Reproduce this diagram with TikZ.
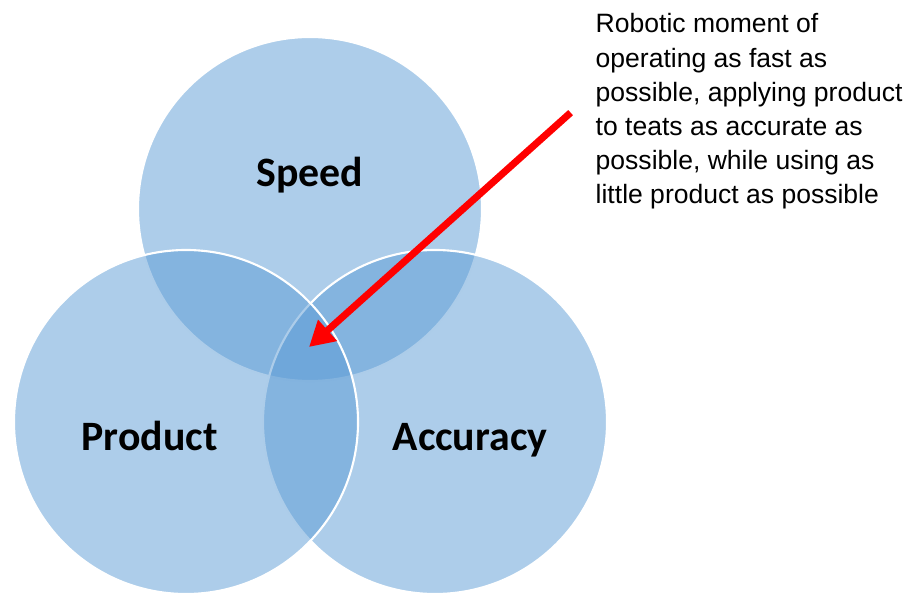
\documentclass[tikz,border=0pt]{standalone}
\usepackage{fontspec}
\setmainfont{Liberation Sans}
\newfontfamily\calibri{Carlito}
\usepackage{tkz-euclide}
\usetikzlibrary{arrows.meta}

\definecolor{azulvenn}{RGB}{91,155,213}
\definecolor{rojoflecha}{RGB}{255,0,0}

\tikzset{
    circulo/.style={fill=azulvenn, fill opacity=0.5, draw=white, line width=0.6pt},
    etiqueta/.style={font=\calibri\bfseries\fontsize{11.9}{13}\selectfont, anchor=base, inner sep=0pt},
    flecha/.style={draw=rojoflecha, line width=2pt, line cap=rect,
        -{Triangle[length=2.5mm,width=2.7mm]}}
}

\begin{document}
\begin{tikzpicture}
        % Fija el marco del dibujo.
        \useasboundingbox (0,0) rectangle (9.07,5.92);

        % Define los centros de los tres círculos.
        \tkzDefPoint(3.10,3.83){S}
        \tkzDefPoint(1.86,1.70){P}
        \tkzDefPoint(4.35,1.70){A}

        % Dibuja los círculos semitransparentes.
        \filldraw[circulo] (S) circle (1.72);
        \filldraw[circulo] (A) circle (1.72);
        \filldraw[circulo] (P) circle (1.72);

        % Etiqueta cada círculo.
        \node[etiqueta] (speed) at (3.10,4.05) {Speed};
        \node[etiqueta] (product) at (1.495,1.42) {Product};
        \node[etiqueta] (accuracy) at (4.70,1.41) {Accuracy};

        % Escribe la nota de la derecha.
        \node[anchor=north west, align=left, inner sep=0pt,
              font=\fontsize{7.55}{9.7}\selectfont] (nota) at (5.95,5.79)
            {Robotic moment of\\operating as fast as\\possible, applying product\\
             to teats as accurate as\\possible, while using as\\little product as possible};

        % Dibuja la flecha hacia el centro común.
        \coordinate (inicio) at (5.68,4.77);
        \coordinate (centro) at (3.09,2.45);
        \draw[flecha] (inicio) -- (centro);
\end{tikzpicture}
\end{document}
